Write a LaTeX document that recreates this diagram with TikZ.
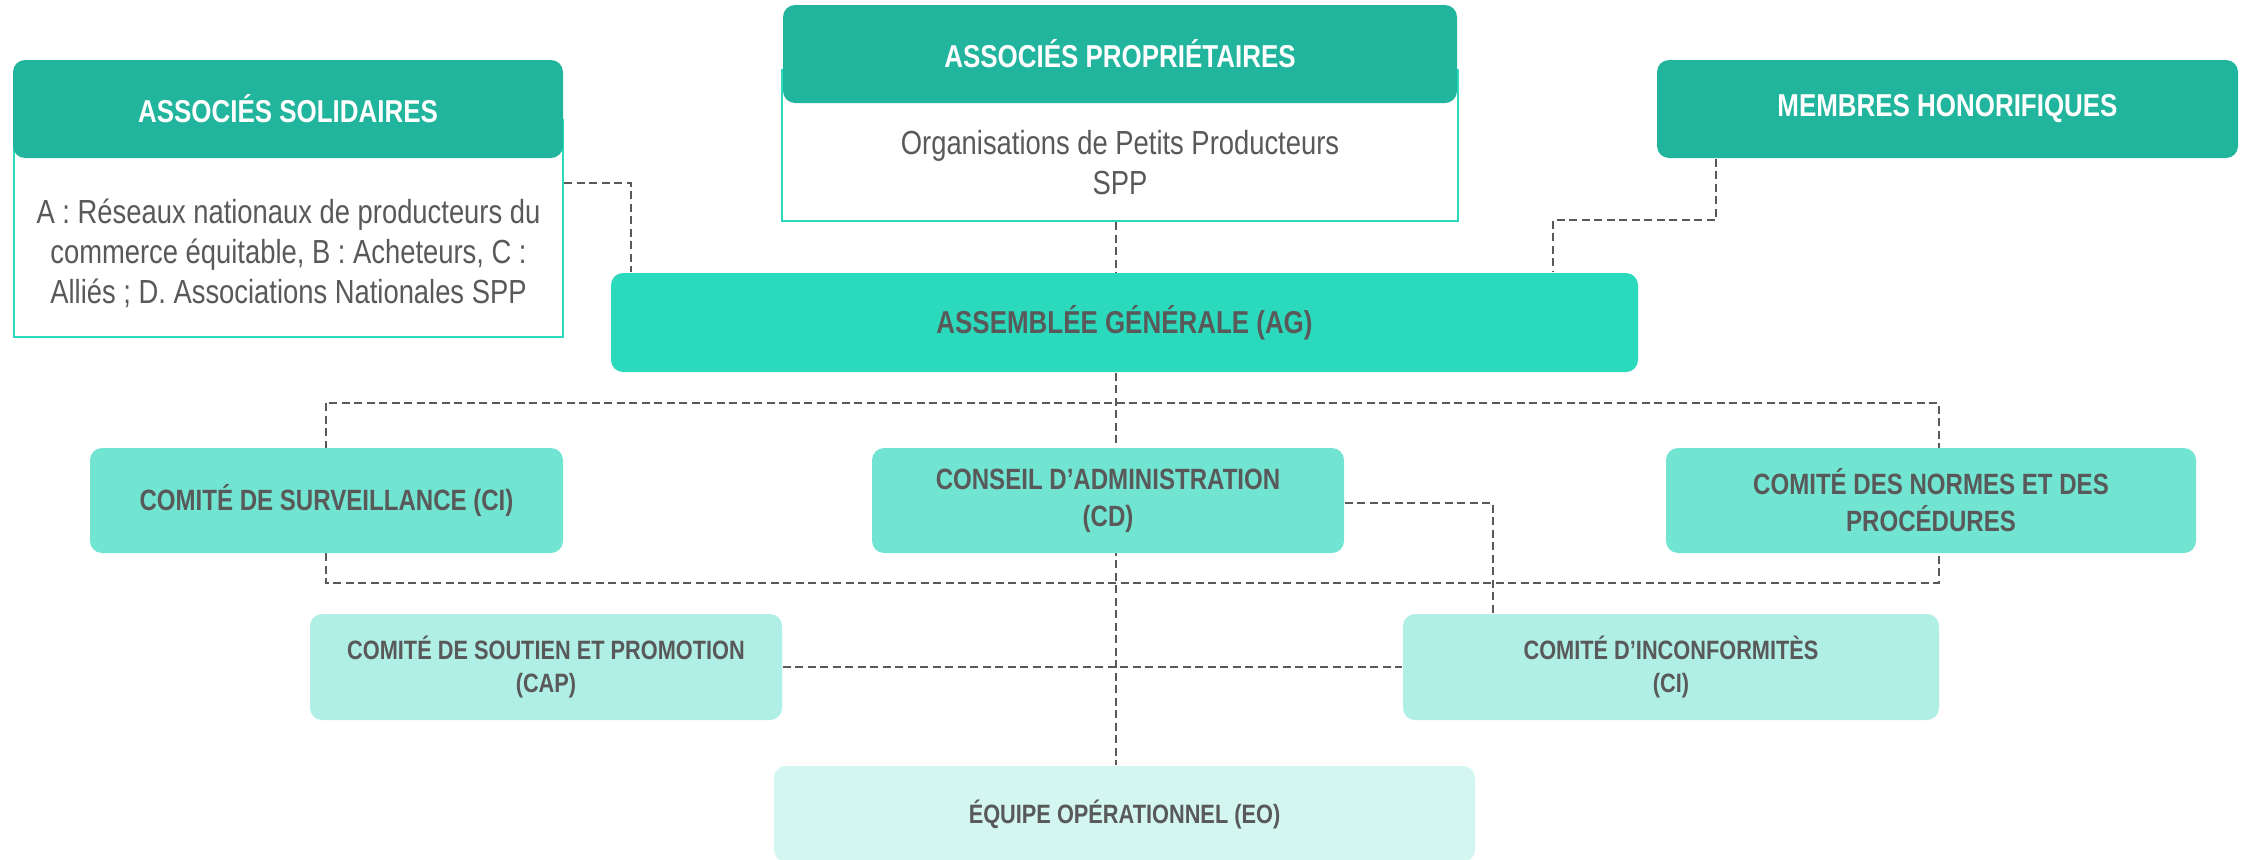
\documentclass[tikz,border=0pt]{standalone}
\usepackage{fontspec}
\setmainfont{Liberation Sans}[FakeStretch=0.82]
\usetikzlibrary{positioning,backgrounds}
\definecolor{hdteal}{HTML}{22B59D}
\definecolor{agteal}{HTML}{2BD9BD}
\definecolor{lvtwo}{HTML}{71E4D2}
\definecolor{lvthree}{HTML}{B0EFE6}
\definecolor{lvfour}{HTML}{D3F6F1}
\definecolor{txtgray}{HTML}{595959}
\tikzset{
	box/.style={rounded corners=1.2mm, align=center, inner sep=0pt, text=txtgray, font=\fontsize{9}{10.5}\selectfont\bfseries},
	headbox/.style={box, fill=hdteal, text=white, minimum height=9.8mm},
	midbox/.style={box, fill=lvtwo, minimum height=10.5mm, font=\fontsize{8.35}{10.5}\selectfont\bfseries},
	smallbox/.style={box, font=\fontsize{7.55}{9.4}\selectfont\bfseries},
	bodybox/.style={draw=agteal, line width=0.25mm, fill=white, inner sep=0pt},
	bodytext/.style={align=center, inner sep=0pt, text=txtgray, font=\fontsize{9.5}{11.4}\selectfont},
	link/.style={draw=txtgray, line width=0.17mm, dash pattern=on 0.8mm off 0.45mm},
}

\begin{document}
\begin{tikzpicture}[x=0.1mm, y=-0.1mm]
		%%%%% START %%%%%
		\clip (0, 0) rectangle (2249, 859);
		
		% associates, top row
		\node[bodybox, minimum width=54.9mm, minimum height=21.7mm] (asbody) at (288.5, 228.5) {};
		\node[headbox, minimum width=55mm] (as) at (288, 109) {ASSOCIÉS SOLIDAIRES};
		\node[bodytext] (astext) at (288.5, 253) {A : Réseaux nationaux de producteurs du\\commerce équitable, B : Acheteurs, C :\\Alliés ; D. Associations Nationales SPP};
		
		\node[bodybox, minimum width=67.6mm, minimum height=15.1mm] (apbody) at (1120, 145.5) {};
		\node[headbox, minimum width=67.4mm] (ap) at (1120, 54) {ASSOCIÉS PROPRIÉTAIRES};
		\node[bodytext] (aptext) at (1120, 163) {Organisations de Petits Producteurs\\SPP};
		
		\node[headbox, minimum width=58.1mm] (mh) at (1947.5, 109) {MEMBRES HONORIFIQUES};
		
		\node[box, fill=agteal, minimum width=102.7mm, minimum height=9.9mm] (ag) at (1124.5, 322.5) {ASSEMBLÉE GÉNÉRALE (AG)};
		
		% committees
		\node[midbox, minimum width=47.3mm] (cs) at (326.5, 500.5) {COMITÉ DE SURVEILLANCE (CI)};
		\node[midbox, minimum width=47.2mm] (cd) at (1108, 500.5) {CONSEIL D’ADMINISTRATION\\(CD)};
		\node[midbox, minimum width=53mm] (cnp) at (1931, 500.5) {COMITÉ DES NORMES ET DES\\PROCÉDURES};
		
		\node[smallbox, fill=lvthree, minimum width=47.2mm, minimum height=10.6mm] (cap) at (546, 667) {COMITÉ DE SOUTIEN ET PROMOTION\\(CAP)};
		\node[smallbox, fill=lvthree, minimum width=53.6mm, minimum height=10.6mm] (ci) at (1671, 667) {COMITÉ D’INCONFORMITÈS\\(CI)};
		
		\node[smallbox, fill=lvfour, minimum width=70.1mm, minimum height=9.6mm] (eo) at (1124.5, 814) {ÉQUIPE OPÉRATIONNEL (EO)};
		
		% dashed links
		\coordinate (spine) at (1116, 0);
		\coordinate (asjoin) at (631, 183);
		\coordinate (mhjoin) at (1716, 220);
		\coordinate (agjoin) at (1553, 220);
		\coordinate (looptl) at (326, 403);
		\coordinate (loopbr) at (1939, 583);
		\coordinate (cdjoin) at (1493, 503);
		
		\begin{scope}[on background layer]
			\draw[link] (asbody.east |- asjoin) -- (asjoin) -- (asjoin |- ag.north);
			\draw[link] (spine |- apbody.south) -- (spine |- ag.north);
			\draw[link] (mhjoin |- mh.south) -- (mhjoin) -- (agjoin) -- (agjoin |- ag.north);
			\draw[link] (spine |- ag.south) -- (spine |- eo.north);
			\draw[link] (looptl) rectangle (loopbr);
			\draw[link] (cd.east |- cdjoin) -- (cdjoin) -- (cdjoin |- ci.north);
			\draw[link] (cap.east) -- (ci.west);
		\end{scope}
		
		%%%%% END %%%%%
\end{tikzpicture}
\end{document}
